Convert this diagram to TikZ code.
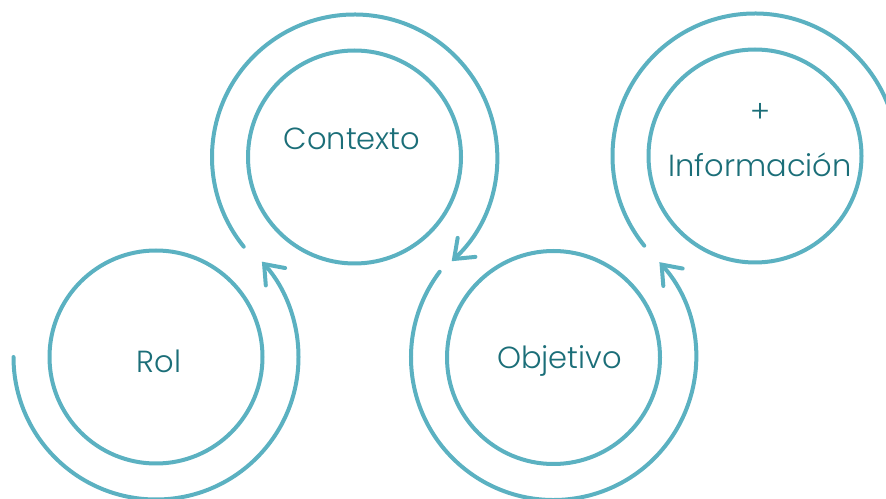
\documentclass[tikz,border=0pt]{standalone}
\usepackage{fontspec}
\setmainfont{Poppins}[UprightFont=* Light]
\usepackage{xcolor}
\usetikzlibrary{arrows.meta}
\definecolor{ringcol}{HTML}{5BB1C1}
\definecolor{wordcol}{HTML}{1B6E78}
\begin{document}
\begin{tikzpicture}[line cap=round,line join=round,x=1pt,y=1pt,
  ring/.style={draw=ringcol,line width=4pt,circle,minimum size=213pt,inner sep=0pt},
  loop/.style={draw=ringcol,line width=4pt},
  barb/.style={-{Straight Barb[length=17pt,width=26pt,line cap=round]}},
  word/.style={text=wordcol,font=\fontsize{30.5}{36}\selectfont,inner sep=0pt}]
\clip (0,0) rectangle (886,498);
\useasboundingbox (0,0) rectangle (886,498);
% inner circles
\node [ring] (rol) at (156,141) {};
\node [ring] (ctx) at (354.5,341) {};
\node [ring] (obj) at (553.5,140.5) {};
\node [ring] (inf) at (755,342) {};
% labels
\node [word] (rolt) at (159,137) {Rol};
\node [word] (ctxt) at (352,359) {Contexto};
\node [word] (objt) at (559.5,137) {Objetivo};
\node [word] (plus) at (760,385) {+};
\node [word] (inft) at (760,333) {Información};
% outer arcs
\draw [loop,barb] ([shift={(180:142.5)}]rol.center) arc [start angle=180,end angle=402,radius=142.5];
\draw [loop,barb] ([shift={(219:142.5)}]ctx.center) arc [start angle=219,end angle=-47,radius=142.5];
\draw [loop,barb] ([shift={(143:142.5)}]obj.center) arc [start angle=143,end angle=402,radius=142.5];
\draw [loop] ([shift={(219:142.5)}]inf.center) arc [start angle=219,end angle=-20,radius=142.5];
\end{tikzpicture}
\end{document}
